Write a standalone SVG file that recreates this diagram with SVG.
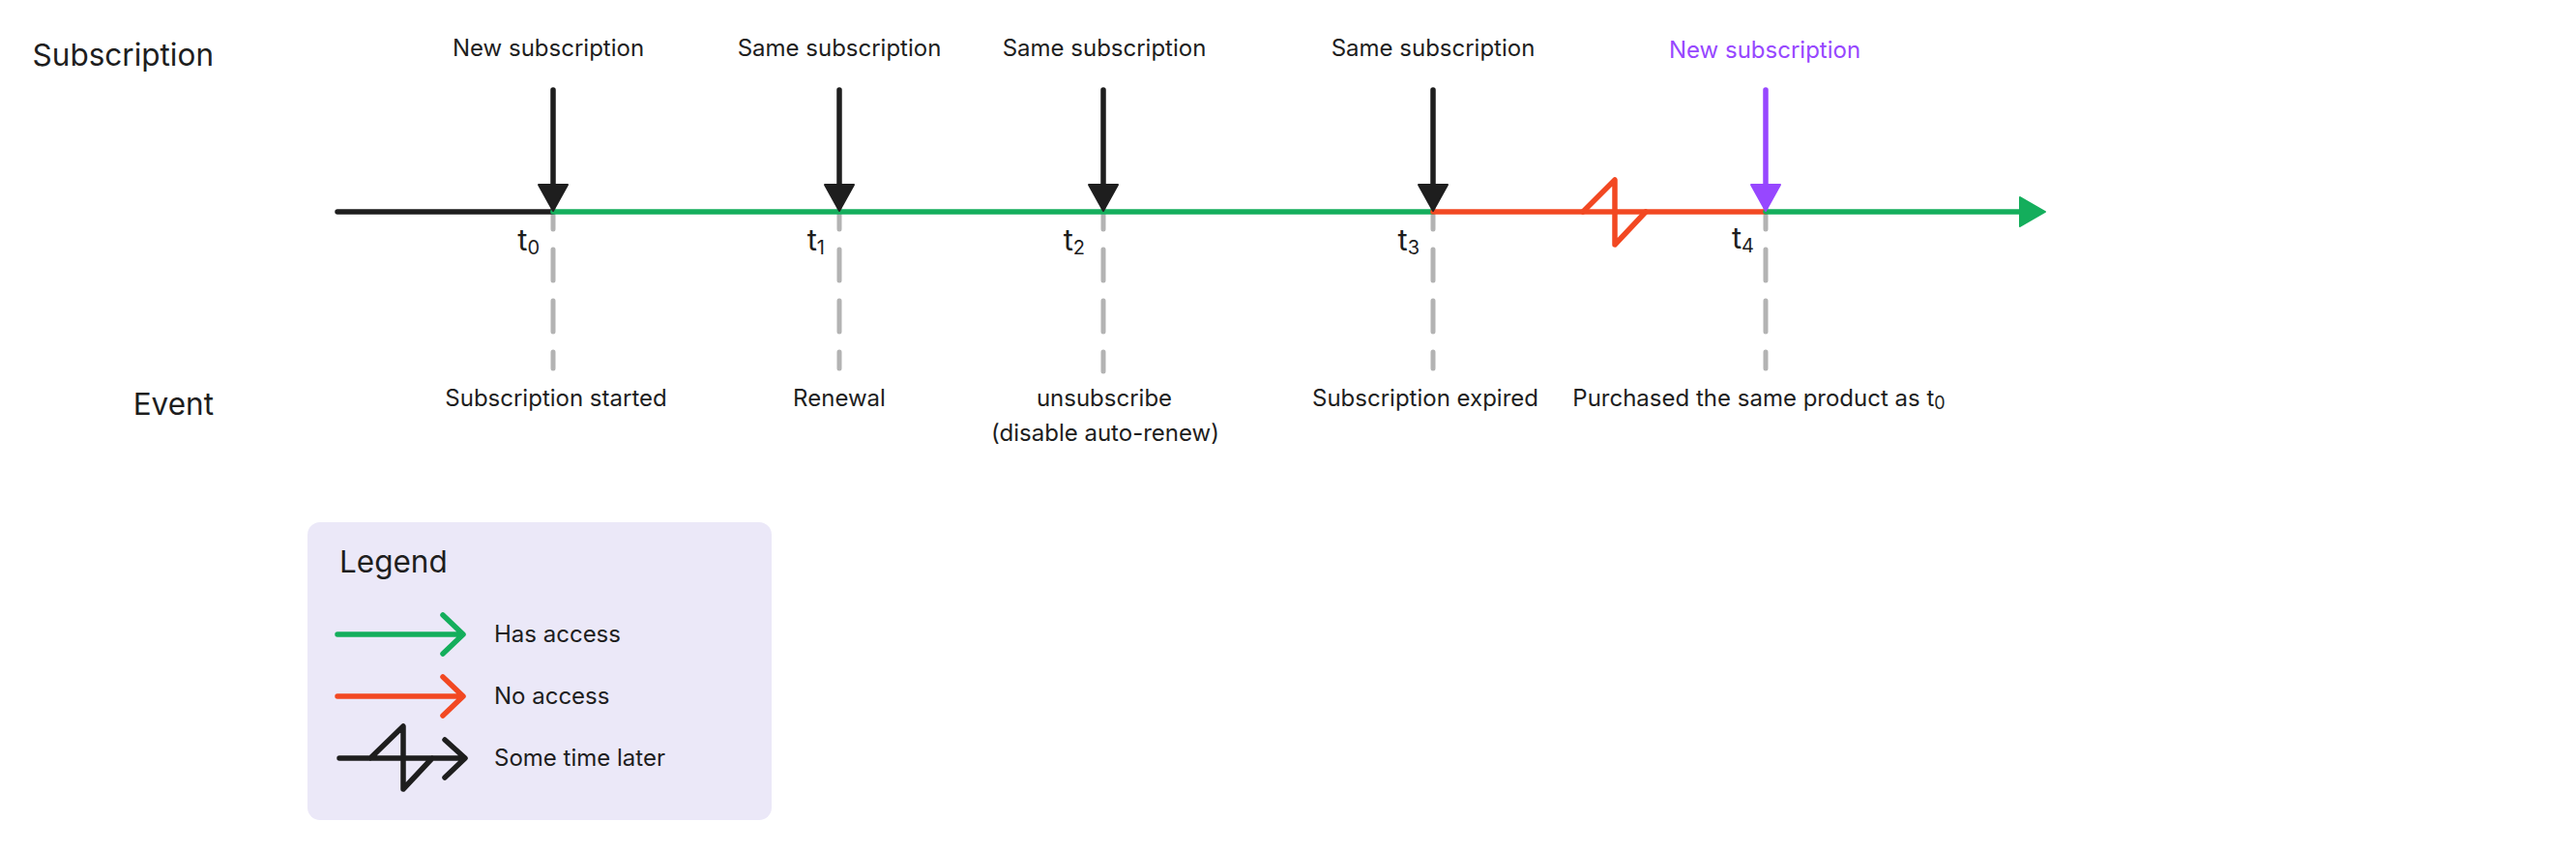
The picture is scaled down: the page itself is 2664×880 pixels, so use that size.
<svg xmlns="http://www.w3.org/2000/svg" width="2664" height="880" viewBox="0 0 2664 880">
<style>
text{font-family:Inter,"Noto Sans","Liberation Sans",sans-serif;fill:#1E1E1E}
.h{font-size:31.5px}
.lb{font-size:24px;text-anchor:middle}
.tl{font-size:31px;text-anchor:end}
.sub{font-size:20px}
.li{font-size:24px}
.dash{stroke:#B3B3B3;stroke-width:5;stroke-linecap:round;stroke-dasharray:32 21;fill:none}
.ln{fill:none;stroke-width:5.5;stroke-linecap:round;stroke-linejoin:round}
.blk{stroke:#1E1E1E}
.grn{stroke:#14AE5C}
.red{stroke:#F24822}
.pur{stroke:#9747FF}
.hd{stroke-width:2;stroke-linejoin:round}
</style>
<rect width="2664" height="880" fill="#FFFFFF"/>
<g id="row-labels">
<text class="h" x="221" y="68" text-anchor="end">Subscription</text>
<text class="h" x="221" y="429" text-anchor="end">Event</text>
</g>
<g id="connectors">
<g id="guides">
<path class="dash" d="M572,205 V381"/>
<path class="dash" d="M868,205 V381"/>
<path class="dash" d="M1141,205 V384"/>
<path class="dash" d="M1482,205 V381"/>
<path class="dash" d="M1826,205 V381"/>
</g>
<g id="timeline">
<path class="ln blk" d="M349,219 H572"/>
<path class="ln grn" d="M572,219 H1482" stroke-linecap="butt"/>
<path class="ln red" d="M1482,219 H1826" stroke-linecap="butt"/>
<path class="ln red" d="M1637,219 L1670,186 L1670,253 L1702,219" stroke-width="5"/>
<path class="ln grn" d="M1826,219 H2095" stroke-linecap="butt"/>
<polygon class="hd grn" fill="#14AE5C" points="2089,204 2115,219 2089,234"/>
</g>
<g id="event-arrows">
<path class="ln blk" d="M572,93 V194"/>
<polygon class="hd blk" fill="#1E1E1E" points="557,191 587,191 572,218"/>
<path class="ln blk" d="M868,93 V194"/>
<polygon class="hd blk" fill="#1E1E1E" points="853,191 883,191 868,218"/>
<path class="ln blk" d="M1141,93 V194"/>
<polygon class="hd blk" fill="#1E1E1E" points="1126,191 1156,191 1141,218"/>
<path class="ln blk" d="M1482,93 V194"/>
<polygon class="hd blk" fill="#1E1E1E" points="1467,191 1497,191 1482,218"/>
<path class="ln pur" d="M1826,93 V194"/>
<polygon class="hd pur" fill="#9747FF" points="1811,191 1841,191 1826,218"/>
</g>
</g>
<g id="t0">
<text class="lb" x="567" y="58">New subscription</text>
<text class="tl" x="558" y="259">t<tspan class="sub" dy="4">0</tspan></text>
<text class="lb" x="575" y="420">Subscription started</text>
</g>
<g id="t1">
<text class="lb" x="868" y="58">Same subscription</text>
<text class="tl" x="853" y="259">t<tspan class="sub" dy="4">1</tspan></text>
<text class="lb" x="868" y="420">Renewal</text>
</g>
<g id="t2">
<text class="lb" x="1142" y="58">Same subscription</text>
<text class="tl" x="1122" y="259">t<tspan class="sub" dy="4">2</tspan></text>
<text class="lb" x="1142" y="420">unsubscribe</text>
<text class="lb" x="1143" y="456">(disable auto-renew)</text>
</g>
<g id="t3">
<text class="lb" x="1482" y="58">Same subscription</text>
<text class="tl" x="1468" y="259">t<tspan class="sub" dy="4">3</tspan></text>
<text class="lb" x="1474" y="420">Subscription expired</text>
</g>
<g id="t4">
<text class="lb" x="1825" y="60" style="fill:#9747FF">New subscription</text>
<text class="tl" x="1814" y="257">t<tspan class="sub" dy="4">4</tspan></text>
<text class="lb" x="1819" y="420">Purchased the same product as t<tspan class="sub" dy="3" style="font-size:18px">0</tspan></text>
</g>
<g id="legend">
<rect x="318" y="540" width="480" height="308" rx="13" fill="#EBE8F8"/>
<text class="h" x="351" y="592">Legend</text>
<path class="ln grn" d="M349,656 H478 M458,636 L479,656 L458,676" stroke-width="5"/>
<text class="li" x="511" y="664">Has access</text>
<path class="ln red" d="M349,720 H478 M458,700 L479,720 L458,740" stroke-width="5"/>
<text class="li" x="511" y="728">No access</text>
<path class="ln blk" d="M351,784 H480 M460,765 L481,784 L460,804 M383,784 L417,751 L417,816 L447,784" stroke-width="5"/>
<text class="li" x="511" y="792">Some time later</text>
</g>
</svg>
